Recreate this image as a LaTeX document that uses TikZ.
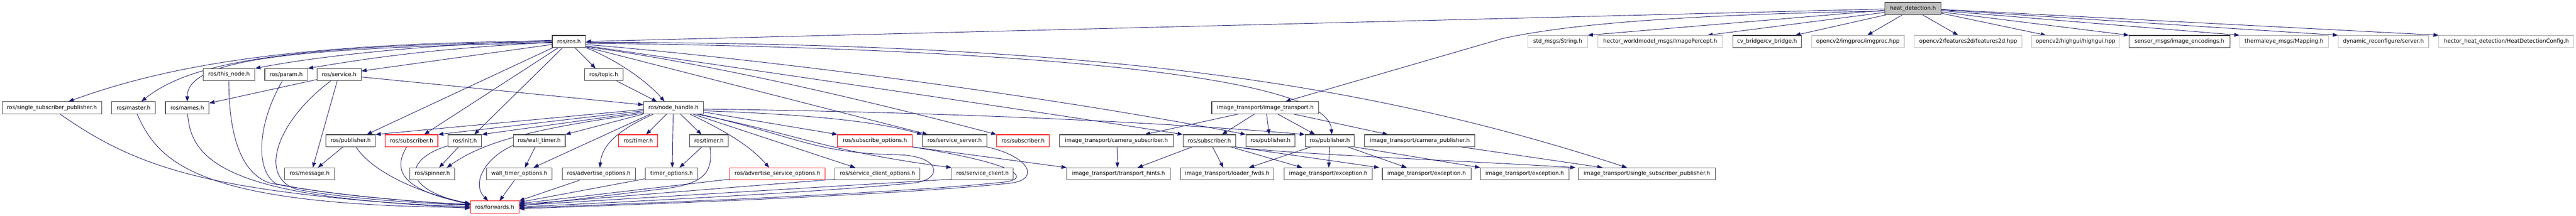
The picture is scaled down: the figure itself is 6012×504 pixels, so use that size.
\documentclass[tikz,border=0pt]{standalone}
\usepackage{fontspec}
\newfontfamily\dvs{DejaVu Sans}
\usetikzlibrary{arrows.meta}
\definecolor{edgeblue}{HTML}{191970}
\definecolor{darkb}{HTML}{404040}
\definecolor{lightb}{HTML}{BFBFBF}
\definecolor{redb}{HTML}{FF0000}
\definecolor{rootfill}{HTML}{BFBFBF}
\pgfdeclarelayer{bg}
\pgfdeclarelayer{canvas}
\pgfsetlayers{canvas,bg,main}
\begin{document}
\begin{tikzpicture}[x=1pt,y=-1pt,
  box/.style={draw=darkb, line width=1.3pt, fill=white, rectangle, inner sep=0pt, minimum height=28pt, font=\dvs\fontsize{12.7}{15}\selectfont, text=black},
  grayn/.style={box, draw=lightb},
  redn/.style={box, draw=redb},
  rootn/.style={box, fill=rootfill},
  dep/.style={draw=edgeblue, line width=1.1pt, -{Triangle[length=12pt,width=9pt]}},
]
\useasboundingbox (0,0) rectangle (6012,504);
\begin{pgfonlayer}{canvas}
\fill[white] (0,0) rectangle (6012,504);
\end{pgfonlayer}
% row 0
\node[rootn, minimum width=131] (heat) at (4464.5,20) {heat\_detection.h};
% row 1
\node[box, minimum width=78] (ros) at (1328,97) {ros/ros.h};
\node[grayn, minimum width=139] (strh) at (3635.5,97) {std\_msgs/String.h};
\node[grayn, minimum width=291] (imgp) at (3874.5,97) {hector\_worldmodel\_msgs/ImagePercept.h};
\node[box, minimum width=160] (cvb) at (4124,97) {cv\_bridge/cv\_bridge.h};
\node[grayn, minimum width=216] (imgproc) at (4336,97) {opencv2/imgproc/imgproc.hpp};
\node[grayn, minimum width=251] (feat) at (4593.5,97) {opencv2/features2d/features2d.hpp};
\node[grayn, minimum width=204] (hgui) at (4844,97) {opencv2/highgui/highgui.hpp};
\node[box, minimum width=235] (enc) at (5086.5,97) {sensor\_msgs/image\_encodings.h};
\node[grayn, minimum width=207] (map) at (5330.5,97) {thermaleye\_msgs/Mapping.h};
\node[grayn, minimum width=211] (dyn) at (5562.5,97) {dynamic\_reconfigure/server.h};
\node[grayn, minimum width=315] (cfg) at (5849.5,97) {hector\_heat\_detection/HeatDetectionConfig.h};
% row 2
\node[box, minimum width=121] (thisnode) at (534.5,174.5) {ros/this\_node.h};
\node[box, minimum width=100] (param) at (668,174.5) {ros/param.h};
\node[box, minimum width=103] (service) at (791.5,174.5) {ros/service.h};
\node[box, minimum width=90] (topic) at (1409,174.5) {ros/topic.h};
% row 3
\node[box, minimum width=232] (ssp) at (121,252) {ros/single\_subscriber\_publisher.h};
\node[box, minimum width=103] (master) at (311.5,252) {ros/master.h};
\node[box, minimum width=102] (names) at (437,252) {ros/names.h};
\node[box, minimum width=140] (nh) at (1572,252) {ros/node\_handle.h};
\node[box, minimum width=250] (imt) at (2953,252) {image\_transport/image\_transport.h};
% row 4
\node[box, minimum width=115] (pub1) at (818.5,329) {ros/publisher.h};
\node[redn, minimum width=123] (sub1) at (960.5,329) {ros/subscriber.h};
\node[box, minimum width=78] (init) at (1085,329) {ros/init.h};
\node[box, minimum width=121] (wt) at (1258.5,329) {ros/wall\_timer.h};
\node[redn, minimum width=91] (timerr) at (1489.5,329) {ros/timer.h};
\node[box, minimum width=91] (timer) at (1654.5,329) {ros/timer.h};
\node[redn, minimum width=174] (subo) at (2042,329) {ros/subscribe\_options.h};
\node[box, minimum width=150] (ss) at (2228,329) {ros/service\_server.h};
\node[redn, minimum width=123] (sub2) at (2387.5,329) {ros/subscriber.h};
\node[box, minimum width=265] (camsub) at (2605.5,329) {image\_transport/camera\_subscriber.h};
\node[box, minimum width=123] (sub3) at (2822.5,329) {ros/subscriber.h};
\node[box, minimum width=114] (pub2) at (2965,329) {ros/publisher.h};
\node[box, minimum width=115] (pub3) at (3103.5,329) {ros/publisher.h};
\node[box, minimum width=257] (campub) at (3313.5,329) {image\_transport/camera\_publisher.h};
% row 5
\node[box, minimum width=117] (msg) at (722.5,406.5) {ros/message.h};
\node[box, minimum width=104] (spin) at (1009,406.5) {ros/spinner.h};
\node[box, minimum width=152] (wto) at (1212,406.5) {wall\_timer\_options.h};
\node[box, minimum width=171] (ado) at (1397.5,406.5) {ros/advertise\_options.h};
\node[box, minimum width=123] (tmo) at (1567.5,406.5) {timer\_options.h};
\node[redn, minimum width=223] (aso) at (1814.5,406.5) {ros/advertise\_service\_options.h};
\node[box, minimum width=198] (sco) at (2048,406.5) {ros/service\_client\_options.h};
\node[box, minimum width=144] (sc) at (2293,406.5) {ros/service\_client.h};
\node[box, minimum width=241] (th) at (2610.5,406.5) {image\_transport/transport\_hints.h};
\node[box, minimum width=218] (lf) at (2864,406.5) {image\_transport/loader\_fwds.h};
\node[box, minimum width=206] (ex1) at (3100,406.5) {image\_transport/exception.h};
\node[box, minimum width=207] (ex2) at (3329.5,406.5) {image\_transport/exception.h};
\node[box, minimum width=207] (ex3) at (3558.5,406.5) {image\_transport/exception.h};
\node[box, minimum width=319] (isp) at (3843.5,406.5) {image\_transport/single\_subscriber\_publisher.h};
% row 6
\node[redn, minimum width=113] (fw) at (1154.5,484) {ros/forwards.h};

\begin{pgfonlayer}{bg}
% heat_detection.h
\draw[dep] (heat.west |- 0,21) -- (ros.east |- 0,97);
\draw[dep] (heat.west |- 0,26) .. controls (3800,36) and (3600,70) .. (3507,90) -- (imt.north -| 3000,0);
\draw[dep] (heat.west |- 0,24) -- (strh.north east);
\draw[dep] (heat.west |- 0,29) -- (imgp.north -| 3985,0);
\draw[dep] (heat.south -| 4402,0) -- (cvb.north -| 4190,0);
\draw[dep] (heat.south -| 4440,0) -- (imgproc.north -| 4358,0);
\draw[dep] (heat.south -| 4487,0) -- (feat.north -| 4570,0);
\draw[dep] (heat.east |- 0,31) -- (hgui.north -| 4775,0);
\draw[dep] (heat.east |- 0,28) -- (enc.north west);
\draw[dep] (heat.east |- 0,25) -- (map.north west);
\draw[dep] (heat.east |- 0,23) -- (dyn.north west);
\draw[dep] (heat.east |- 0,22) -- (cfg.north west);
% ros/ros.h to the left
\draw[dep] (ros.west |- 0,96) .. controls (700,100) and (400,150) .. (ssp.north -| 160,0);
\draw[dep] (ros.west |- 0,98) .. controls (700,105) and (450,140) .. (master.north -| 330,0);
\draw[dep] (ros.west |- 0,100) .. controls (700,112) and (437,135) .. (names.north -| 437,0);
\draw[dep] (ros.west |- 0,94) .. controls (1000,104) and (750,130) .. (thisnode.north east);
\draw[dep] (ros.west |- 0,99) .. controls (1000,114) and (850,138) .. (param.north east);
\draw[dep] (ros.west |- 0,104) -- (service.east |- 0,166);
\draw[dep] (ros.south -| 1290,0) -- (pub1.north -| 856,0);
\draw[dep] (ros.south -| 1303,0) -- (sub1.north -| 990,0);
\draw[dep] (ros.south -| 1313,0) -- (init.north -| 1107,0);
\draw[dep] (ros.south -| 1342,0) -- (topic.north -| 1390,0);
\draw[dep] (ros.south east) .. controls (1440,140) and (1510,190) .. (nh.north -| 1551,0);
% ros/ros.h to the right
\draw[dep] (ros.east |- 0,104) .. controls (1800,140) and (2450,225) .. (pub2.north west);
\draw[dep] (ros.east |- 0,107) .. controls (1800,170) and (2450,265) .. (sub3.north west);
\draw[dep] (ros.east |- 0,109) .. controls (1700,155) and (2100,255) .. (sub2.north west);
\draw[dep] (ros.east |- 0,110) -- (ss.north -| 2165,0);
\draw[dep] (ros.east |- 0,101) .. controls (2200,110) and (3100,160) .. (pub3.north -| 3108,0);
\draw[dep] (ros.east |- 0,99) .. controls (2500,100) and (3150,180) .. (isp.north -| 3797,0);
% ros/service.h
\draw[dep] (service.west |- 0,186) -- (names.east |- 0,241);
\draw[dep] (service.south -| 787,0) -- (msg.north -| 730,0);
\draw[dep] (service.south -| 772,0) .. controls (650,280) and (600,410) .. (690,442) .. controls (800,465) and (1000,476) .. (fw.west |- 0,480);
\draw[dep] (service.east |- 0,180) -- (nh.west |- 0,245);
% this_node, param
\draw[dep] (thisnode.south -| 534,0) .. controls (534,310) and (560,405) .. (630,428) .. controls (780,458) and (1000,474) .. (fw.west |- 0,478);
\draw[dep] (param.south -| 659,0) .. controls (600,290) and (595,400) .. (645,430) .. controls (780,458) and (1000,474) .. (fw.west |- 0,479);
% ssp, master, names
\draw[dep] (ssp.south -| 140,0) .. controls (330,400) and (500,450) .. (fw.west |- 0,487);
\draw[dep] (master.south -| 320,0) .. controls (370,380) and (460,480) .. (fw.west |- 0,485);
\draw[dep] (names.south -| 438,0) .. controls (445,370) and (520,465) .. (fw.west |- 0,483);
% pub1, sub1, init
\draw[dep] (pub1.south -| 800,0) -- (msg.north -| 742,0);
\draw[dep] (pub1.south -| 831,0) .. controls (860,390) and (950,445) .. (fw.west |- 0,476);
\draw[dep] (sub1.south -| 949,0) .. controls (915,400) and (940,445) .. (fw.west |- 0,477);
\draw[dep] (init.west |- 0,341) .. controls (960,365) and (915,435) .. (fw.west |- 0,478);
\draw[dep] (init.south -| 1070,0) -- (spin.north -| 1025,0);
% node_handle to the left
\draw[dep] (nh.west |- 0,256) -- (pub1.north east);
\draw[dep] (nh.west |- 0,259) -- (sub1.north east);
\draw[dep] (nh.west |- 0,262) -- (init.north east);
\draw[dep] (nh.west |- 0,265) .. controls (1250,300) and (1130,330) .. (spin.north -| 1043,0);
\draw[dep] (nh.south west) -- (wt.north east);
\draw[dep] (nh.south -| 1518,0) -- (wto.north -| 1245,0);
\draw[dep] (nh.south -| 1525,0) .. controls (1440,305) and (1405,340) .. (ado.north -| 1400,0);
\draw[dep] (nh.south -| 1556,0) -- (timerr.north -| 1508,0);
\draw[dep] (nh.south -| 1571,0) -- (tmo.north -| 1569,0);
\draw[dep] (nh.south -| 1588,0) -- (timer.north -| 1637,0);
\draw[dep] (nh.south -| 1610,0) .. controls (1690,305) and (1750,340) .. (aso.north -| 1795,0);
\draw[dep] (nh.south -| 1617,0) -- (sco.north -| 1996,0);
% node_handle to the right
\draw[dep] (nh.east |- 0,262) -- (subo.north west);
\draw[dep] (nh.east |- 0,259) .. controls (1900,268) and (2050,285) .. (ss.north west);
\draw[dep] (nh.south -| 1625,0) .. controls (1880,318) and (1920,352) .. (sc.north west);
\draw[dep] (nh.south -| 1632,0) .. controls (1870,322) and (1900,358) .. (2100,362) .. controls (2200,366) and (2200,422) .. (2130,428) .. controls (1900,450) and (1500,470) .. (fw.east |- 0,484);
\draw[dep] (nh.east |- 0,255) .. controls (2200,262) and (2700,285) .. (pub3.north west);
% topic, timers, options
\draw[dep] (topic.south -| 1439,0) -- (nh.north -| 1533,0);
\draw[dep] (wt.south -| 1249,0) -- (wto.north -| 1225,0);
\draw[dep] (wt.west |- 0,340) .. controls (1130,370) and (1100,430) .. (fw.north -| 1139,0);
\draw[dep] (wto.south -| 1201,0) -- (fw.north -| 1166,0);
\draw[dep] (ado.south -| 1353,0) -- (fw.north east);
\draw[dep] (timer.south -| 1638,0) -- (tmo.north -| 1586,0);
\draw[dep] (timer.south -| 1657,0) .. controls (1665,405) and (1640,428) .. (1560,440) -- (fw.east |- 0,482);
\draw[dep] (tmo.west |- 0,418) -- (fw.east |- 0,473);
\draw[dep] (aso.west |- 0,419) -- (fw.east |- 0,476);
\draw[dep] (sco.west |- 0,419) -- (fw.east |- 0,478);
\draw[dep] (sc.west |- 0,419) -- (fw.east |- 0,480);
\draw[dep] (subo.south east) -- (th.north west);
\draw[dep] (subo.south east) .. controls (2390,385) and (2405,420) .. (2340,426) .. controls (2100,452) and (1500,476) .. (fw.east |- 0,486);
\draw[dep] (ss.south east) .. controls (2400,365) and (2430,418) .. (2360,428) .. controls (2100,456) and (1500,478) .. (fw.east |- 0,488);
% image_transport
\draw[dep] (imt.south -| 2890,0) -- (camsub.north -| 2672,0);
\draw[dep] (imt.south -| 2928,0) -- (sub3.north -| 2852,0);
\draw[dep] (imt.south -| 2956,0) -- (pub2.north -| 2962,0);
\draw[dep] (imt.south -| 2982,0) -- (pub3.north -| 3069,0);
\draw[dep] (imt.south -| 3019,0) -- (campub.north -| 3239,0);
\draw[dep] (camsub.south -| 2607,0) -- (th.north -| 2608,0);
\draw[dep] (sub3.south -| 2782,0) -- (th.north -| 2655,0);
\draw[dep] (sub3.south -| 2830,0) -- (lf.north -| 2855,0);
\draw[dep] (sub3.south -| 2873,0) -- (ex1.north -| 3039,0);
\draw[dep] (sub3.south east) -- (ex2.north -| 3219,0);
\draw[dep] (sub3.south east) .. controls (3000,360) and (3400,375) .. (isp.north -| 3677,0);
\draw[dep] (pub3.south -| 3059,0) -- (lf.north -| 2915,0);
\draw[dep] (pub3.south -| 3103,0) -- (ex1.north -| 3101,0);
\draw[dep] (pub3.south -| 3146,0) -- (ex2.north -| 3283,0);
\draw[dep] (pub3.south east) -- (ex3.north west);
\draw[dep] (campub.south -| 3411,0) -- (isp.north -| 3740,0);
\end{pgfonlayer}
\end{tikzpicture}
\end{document}
